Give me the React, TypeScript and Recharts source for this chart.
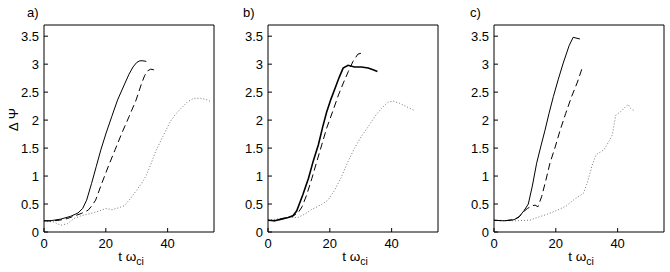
import React from 'react';
import { LineChart, Line, XAxis, YAxis } from 'recharts';

type P = [number, number];

const xTicks = [0, 20, 40];
const yTicks = [0, 0.5, 1, 1.5, 2, 2.5, 3, 3.5];
const panelLabels = ['a)', 'b)', 'c)'];
const yLabel = 'Δ Ψ';

// panel a
const aSolid: P[] = [[0, 0.2], [2, 0.2], [5.4, 0.23], [8.6, 0.28], [11, 0.34], [12.5, 0.42], [13.8, 0.57], [15.4, 0.87], [16.9, 1.17], [18.4, 1.47], [20.1, 1.77], [21.9, 2.06], [23.8, 2.36], [26.2, 2.66], [27.5, 2.82], [28.8, 2.95], [30, 3.03], [31, 3.06], [32, 3.06], [33.1, 3.05]];
const aDashed: P[] = [[0, 0.2], [2.5, 0.2], [5, 0.21], [7.5, 0.24], [10, 0.29], [12, 0.33], [14.3, 0.39], [15.5, 0.47], [16.7, 0.57], [18.7, 0.87], [21, 1.2], [23, 1.47], [25.2, 1.77], [27.5, 2.06], [29.8, 2.36], [31.6, 2.66], [32.6, 2.8], [33.5, 2.88], [34.5, 2.91], [35.5, 2.9], [36.1, 2.89]];
const aDotted: P[] = [[0, 0.2], [3.2, 0.18], [5.4, 0.12], [7.6, 0.15], [9.7, 0.24], [12, 0.29], [15, 0.33], [17.5, 0.37], [20, 0.42], [22, 0.4], [24, 0.43], [26, 0.47], [28, 0.6], [30, 0.75], [31.6, 0.87], [33, 1.0], [34.5, 1.2], [35.9, 1.41], [37.5, 1.6], [39.3, 1.8], [40.8, 1.97], [42.5, 2.1], [44.5, 2.22], [46.5, 2.33], [48.5, 2.39], [50.7, 2.39], [52.9, 2.36], [53.9, 2.33]];

// panel b
const bSolid: P[] = [[0, 0.21], [2.2, 0.2], [4.3, 0.23], [6.5, 0.26], [8.1, 0.29], [9.3, 0.38], [11.3, 0.67], [13.1, 0.96], [14.7, 1.28], [16.3, 1.56], [17.7, 1.88], [19, 2.15], [20.4, 2.38], [21.7, 2.57], [23, 2.76], [24.3, 2.93], [25.9, 2.98], [28, 2.95], [30.2, 2.95], [32.4, 2.93], [34, 2.9], [35.4, 2.87]];
const bDashed: P[] = [[0, 0.21], [2.2, 0.2], [4.3, 0.23], [6.5, 0.26], [8.1, 0.29], [9.7, 0.34], [11, 0.45], [12.5, 0.66], [14.2, 0.96], [15.8, 1.26], [17.4, 1.56], [19, 1.86], [20.9, 2.15], [22.8, 2.45], [24.5, 2.68], [26, 2.87], [27.5, 3.05], [29.1, 3.18], [31.1, 3.21]];
const bDotted: P[] = [[0, 0.21], [6.5, 0.26], [9.7, 0.26], [11.9, 0.32], [14, 0.4], [17.3, 0.49], [19.4, 0.57], [21.6, 0.75], [23.7, 0.98], [25.9, 1.26], [28, 1.5], [30.2, 1.71], [32.4, 1.88], [34.5, 2.06], [36.7, 2.21], [38.8, 2.32], [40.5, 2.34], [42.6, 2.3], [44.8, 2.24], [47.1, 2.18]];

// panel c
const cSolid: P[] = [[0, 0.21], [3.2, 0.2], [6.5, 0.22], [8.1, 0.27], [9.7, 0.38], [11.1, 0.5], [12.4, 0.82], [13.8, 1.23], [15.2, 1.54], [16.5, 1.82], [17.8, 2.12], [19.2, 2.42], [20.8, 2.73], [22.4, 3.02], [24.3, 3.33], [25.6, 3.48], [27.8, 3.45]];
const cDashed: P[] = [[0, 0.21], [3.2, 0.2], [6.5, 0.22], [8.1, 0.27], [9.7, 0.37], [10.8, 0.42], [12.4, 0.47], [13.3, 0.48], [14.2, 0.45], [15.4, 0.63], [16.8, 0.93], [18.1, 1.23], [19.8, 1.52], [21.4, 1.82], [23.2, 2.12], [25.1, 2.42], [27, 2.68], [28.7, 2.96]];
const cDotted: P[] = [[0, 0.21], [6.5, 0.2], [11.6, 0.21], [14, 0.26], [17.3, 0.32], [20.5, 0.39], [23.5, 0.47], [25.9, 0.58], [28.9, 0.69], [30.2, 0.88], [31.8, 1.2], [33, 1.38], [35.6, 1.47], [37.2, 1.62], [38.3, 1.74], [39.4, 2.09], [41, 2.15], [42.6, 2.24], [43.4, 2.28], [44.2, 2.21], [45.6, 2.16]];

const toRows = (pts: P[]) => pts.map(([t, v]) => ({ t, v }));

const FONT = '"Liberation Sans", Arial, Helvetica, sans-serif';
const tickStyle = { fontSize: 13, fontFamily: FONT, fill: '#000' };

const XLabel = (props: any) => {
  const vb = props.viewBox;
  return (
    <text x={vb.x + vb.width / 2 + 2} y={vb.y + 29} textAnchor="middle" fontSize={13.5} fontFamily={FONT} fill="#000">
      t ω<tspan fontSize={10.5} dy={4}>ci</tspan>
    </text>
  );
};

const YLabel = (props: any) => {
  const vb = props.viewBox;
  const x = vb.x + 17.5;
  const y = vb.y + vb.height / 2 - 9;
  return (
    <text x={x} y={y} transform={`rotate(-90, ${x}, ${y})`} textAnchor="middle" fontSize={13.5} fontFamily={FONT} fill="#000">
      {yLabel}
    </text>
  );
};

const makeTopLabel = (text: string, dx: number) => (props: any) => {
  const vb = props.viewBox;
  return (
    <text x={vb.x + dx} y={vb.y + vb.height - 8} fontSize={13} fontFamily={FONT} fill="#000">
      {text}
    </text>
  );
};

type PanelProps = {
  left: number;
  solid: P[];
  dashed: P[];
  dotted: P[];
  label: string;
  labelDx: number;
  showYLabel: boolean;
  solidWidth: number;
};

const Panel = ({ left, solid, dashed, dotted, label, labelDx, showYLabel, solidWidth }: PanelProps) => (
  <div style={{ position: 'absolute', left, top: 0 }}>
    <LineChart width={225} height={272} margin={{ top: 24, right: 10, bottom: 0, left: 0 }}>
      <XAxis
        xAxisId="b"
        type="number"
        dataKey="t"
        domain={[0, 55]}
        ticks={xTicks}
        allowDataOverflow
        height={40}
        tickSize={-4}
        tickMargin={11}
        tick={tickStyle}
        stroke="#000"
        label={{ content: XLabel }}
      />
      <XAxis
        xAxisId="t"
        orientation="top"
        type="number"
        dataKey="t"
        domain={[0, 55]}
        ticks={xTicks}
        allowDataOverflow
        height={1}
        tickSize={-4}
        tick={false}
        stroke="#000"
        label={{ content: makeTopLabel(label, labelDx) }}
      />
      <YAxis
        yAxisId="l"
        type="number"
        domain={[0, 3.7]}
        ticks={yTicks}
        allowDataOverflow
        width={44}
        tickSize={-4}
        tickMargin={9}
        tick={tickStyle}
        stroke="#000"
        label={showYLabel ? { content: YLabel } : undefined}
      />
      <YAxis
        yAxisId="r"
        orientation="right"
        type="number"
        domain={[0, 3.7]}
        ticks={yTicks}
        allowDataOverflow
        width={1}
        tickSize={-4}
        tick={false}
        stroke="#000"
      />
      <Line xAxisId="b" yAxisId="l" data={toRows(dotted)} dataKey="v" type="linear" stroke="#777" strokeWidth={1} strokeDasharray="1 2" dot={false} isAnimationActive={false} />
      <Line xAxisId="b" yAxisId="l" data={toRows(dashed)} dataKey="v" type="linear" stroke="#000" strokeWidth={1} strokeDasharray="7 4" dot={false} isAnimationActive={false} />
      <Line xAxisId="b" yAxisId="l" data={toRows(solid)} dataKey="v" type="linear" stroke="#000" strokeWidth={solidWidth} dot={false} isAnimationActive={false} />
    </LineChart>
  </div>
);

export default function App() {
  return (
    <div style={{ position: 'absolute', left: 0, top: 0, width: 670, height: 272, background: '#fff' }}>
      <Panel left={0} solid={aSolid} dashed={aDashed} dotted={aDotted} label={panelLabels[0]} labelDx={-17} showYLabel solidWidth={1} />
      <Panel left={224} solid={bSolid} dashed={bDashed} dotted={bDotted} label={panelLabels[1]} labelDx={-25} showYLabel={false} solidWidth={1.6} />
      <Panel left={450} solid={cSolid} dashed={cDashed} dotted={cDotted} label={panelLabels[2]} labelDx={-24} showYLabel={false} solidWidth={1} />
    </div>
  );
}
